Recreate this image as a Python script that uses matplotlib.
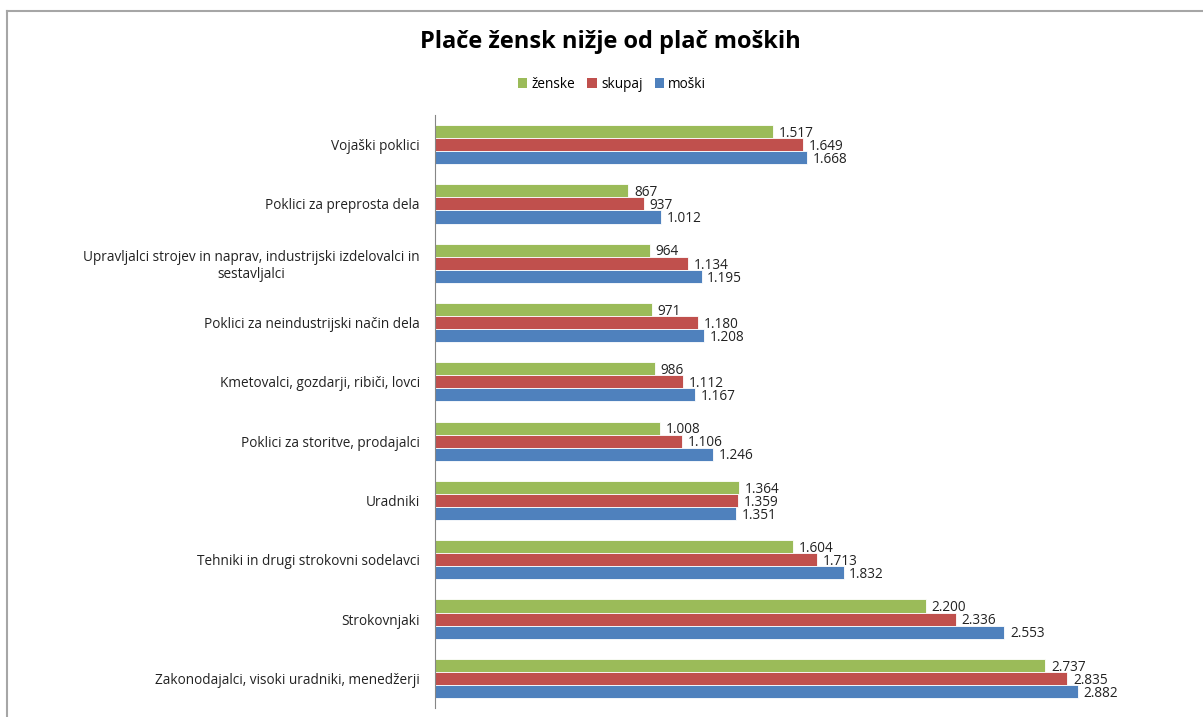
import numpy as np
import matplotlib.pyplot as plt
from matplotlib.lines import Line2D
from matplotlib.patches import Patch

plt.rcParams['font.family'] = ['Open Sans', 'DejaVu Sans']

# data, top to bottom as in the chart
categories = [
    'Vojaški poklici',
    'Poklici za preprosta dela',
    'Upravljalci strojev in naprav, industrijski izdelovalci in\nsestavljalci',
    'Poklici za neindustrijski način dela',
    'Kmetovalci, gozdarji, ribiči, lovci',
    'Poklici za storitve, prodajalci',
    'Uradniki',
    'Tehniki in drugi strokovni sodelavci',
    'Strokovnjaki',
    'Zakonodajalci, visoki uradniki, menedžerji',
]
zenske = [1517, 867, 964, 971, 986, 1008, 1364, 1604, 2200, 2737]
skupaj = [1649, 937, 1134, 1180, 1112, 1106, 1359, 1713, 2336, 2835]
moski = [1668, 1012, 1195, 1208, 1167, 1246, 1351, 1832, 2553, 2882]

series = [('ženske', zenske, '#9BBB59'),
          ('skupaj', skupaj, '#C0504D'),
          ('moški', moski, '#4F81BD')]

W, H = 1203, 717
fig = plt.figure(figsize=(W / 100, H / 100), dpi=100)

# grey chart frame (continues past right/bottom edge)
fig.add_artist(Line2D([7 / W, 7 / W], [0, 1 - 10.5 / H], transform=fig.transFigure,
                      color='#A6A6A6', lw=1.5))
fig.add_artist(Line2D([7 / W, 1], [1 - 10.5 / H, 1 - 10.5 / H], transform=fig.transFigure,
                      color='#A6A6A6', lw=1.5))

ax = fig.add_axes([435 / W, 9 / H, (1180 - 435) / W, (708 - 115) / H])

y = np.arange(len(categories))
bh = 0.22
for i, (name, vals, col) in enumerate(series):
    pos = y + (i - 1) * bh
    ax.barh(pos, vals, height=bh, color=col, edgecolor='white', linewidth=0.6, label=name)
    for p, v in zip(pos, vals):
        lbl = f'{v:,}'.replace(',', '.')
        ax.text(v + 25, p + 0.03, lbl, va='center', ha='left', fontsize=9.8, color='#222222')

ax.set_xlim(0, 3340)
ax.set_ylim(len(categories) - 0.5, -0.5)
ax.set_yticks(y)
ax.set_yticklabels(categories, fontsize=9.8, color='#222222', multialignment='center')
ax.tick_params(axis='y', length=0, pad=11)
ax.set_xticks([])
for s in ['top', 'right', 'bottom']:
    ax.spines[s].set_visible(False)
ax.spines['left'].set_color('#868686')

fig.text(610 / W, 1 - 42 / H, 'Plače žensk nižje od plač moških', ha='center', va='center',
         fontsize=17, fontweight='bold', color='black')

handles = [Patch(facecolor=c, label=n) for n, v, c in series]
fig.legend(handles=handles, loc='center', bbox_to_anchor=(612 / W, 1 - 84 / H), ncol=3,
           frameon=False, fontsize=9.8, handlelength=0.7, handleheight=0.7,
           handletextpad=0.3, columnspacing=0.9)

plt.savefig('out.png', dpi=100)
